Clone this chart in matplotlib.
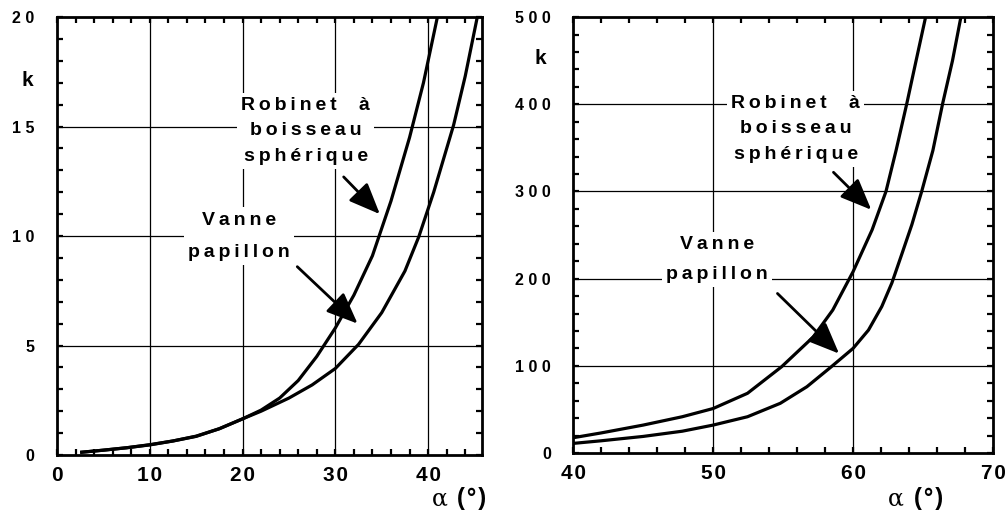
import matplotlib
matplotlib.use("Agg")
import matplotlib.pyplot as plt
from matplotlib.ticker import MultipleLocator, FixedLocator, FixedFormatter
from matplotlib.patches import FancyArrowPatch

# Loss coefficient k versus opening angle alpha (degrees)
# Low-angle panel (0-46 deg)
alpha_ball_low = [2.5, 5, 7.5, 10, 12.5, 15, 17.5, 20, 22, 24, 26, 28, 30, 32, 34,
                  36, 38, 39.5, 41]
k_ball_low = [0.12, 0.22, 0.33, 0.47, 0.64, 0.86, 1.2, 1.65, 2.05, 2.6, 3.4, 4.5,
              5.8, 7.3, 9.1, 11.6, 14.5, 17.0, 20.0]

alpha_fly_low = [2.5, 5, 7.5, 10, 12.5, 15, 17.5, 20, 22, 25, 27.5, 30, 32.5, 35,
                 37.5, 39, 40.6, 42.75, 44, 45.3]
k_fly_low = [0.12, 0.22, 0.33, 0.46, 0.64, 0.85, 1.2, 1.65, 2.0, 2.6, 3.2, 3.95,
             5.05, 6.5, 8.4, 9.97, 12.0, 15.07, 17.3, 20.0]

# High-angle panel (40-70 deg)
alpha_ball_high = [40, 42, 45, 47.8, 50, 52.46, 54.9, 57.15, 58.55, 60, 61.36, 62.35,
                   63.07, 63.84, 64.5, 65.18]
k_ball_high = [17.5, 23, 32, 41.6, 51, 68.5, 99, 133, 164, 208, 256, 300, 347, 401,
               450, 500]

alpha_fly_high = [40, 42, 45, 47.8, 50, 52.46, 54.8, 56.7, 58.45, 60, 61.1, 62.05,
                  62.77, 63.5, 64.2, 64.9, 65.7, 66.4, 67.1, 67.7]
k_fly_high = [11, 14, 19, 25, 32, 41.6, 57, 76, 99, 120, 141, 168, 195, 229, 262,
              300, 347, 401, 450, 500]

label_ball = "Robinet  à\nboisseau\nsphérique"
label_fly = "Vanne\npapillon"
x_ticks_low = [0, 10, 20, 30, 40]
y_ticks_low = [0, 5, 10, 15, 20]
x_ticks_high = [40, 50, 60, 70]
y_ticks_high = [0, 100, 200, 300, 400, 500]

FONT = "Liberation Sans"
plt.rcParams["font.family"] = [FONT, "DejaVu Sans"]
plt.rcParams["font.weight"] = "bold"

THIN = "\u2009"
HAIR = "\u200a"


def spaced(s, gap=THIN):
    """Letter-spaced version of a (possibly multi-line) string."""
    return "\n".join(gap.join(line) for line in s.split("\n"))


fig = plt.figure(figsize=(10.08, 5.11), dpi=100)
ax1 = fig.add_axes([0.0565, 0.1096, 0.4216, 0.857])
ax2 = fig.add_axes([0.5685, 0.1135, 0.4167, 0.853])

LW_CURVE = 2.3
LW_SPINE = 2.0


def style_axes(ax, xlim, ylim, xt, yt, xminor, yminor, grid_x, grid_y):
    ax.set_xlim(*xlim)
    ax.set_ylim(*ylim)
    ax.xaxis.set_major_locator(FixedLocator(xt))
    ax.yaxis.set_major_locator(FixedLocator(yt))
    ax.xaxis.set_major_formatter(FixedFormatter([spaced(str(v), HAIR) for v in xt]))
    ax.yaxis.set_major_formatter(FixedFormatter([" ".join(str(v)) for v in yt]))
    ax.xaxis.set_minor_locator(MultipleLocator(xminor))
    ax.yaxis.set_minor_locator(MultipleLocator(yminor))
    ax.tick_params(which="both", direction="in", top=True, right=True,
                   length=4, width=1.6, color="black")
    ax.tick_params(axis="x", which="major", labelsize=15, pad=8)
    ax.tick_params(axis="y", which="major", labelsize=11.5, pad=16)
    for lab in ax.get_xticklabels() + ax.get_yticklabels():
        lab.set_fontweight("bold")
    for s in ax.spines.values():
        s.set_linewidth(LW_SPINE)
    for gx in grid_x:
        ax.axvline(gx, color="black", lw=0.9, zorder=1)
    for gy in grid_y:
        ax.axhline(gy, color="black", lw=0.9, zorder=1)


style_axes(ax1, (0, 45.8), (0, 20), x_ticks_low, y_ticks_low, 2, 1,
           [10, 20, 30, 40], [5, 10, 15])
style_axes(ax2, (40, 70), (0, 500), x_ticks_high, y_ticks_high, 2, 20,
           [50, 60], [100, 200, 300, 400])

for ax, xs, ys in [(ax1, alpha_ball_low, k_ball_low), (ax1, alpha_fly_low, k_fly_low),
                   (ax2, alpha_ball_high, k_ball_high), (ax2, alpha_fly_high, k_fly_high)]:
    ax.plot(xs, ys, color="black", lw=LW_CURVE, zorder=4,
            solid_capstyle="butt", solid_joinstyle="round")

box = dict(facecolor="white", edgecolor="none", pad=3)
txt_kw = dict(fontsize=14, fontweight="bold", zorder=3,
              bbox=box, multialignment="center")

# Curve labels
ax1.text(26.8, 14.8, spaced(label_ball), ha="center", va="center",
         linespacing=1.65, **txt_kw)
ax1.text(19.6, 10.0, spaced(label_fly), ha="center", va="center",
         linespacing=2.15, **txt_kw)
ax2.text(55.9, 372, spaced(label_ball), ha="center", va="center",
         linespacing=1.65, **txt_kw)
ax2.text(50.3, 222, spaced(label_fly), ha="center", va="center",
         linespacing=2.05, **txt_kw)


def arrow(ax, start, end):
    a = FancyArrowPatch(start, end, arrowstyle="-|>,head_length=1.2,head_width=0.5",
                        mutation_scale=16, lw=2.0, color="black", zorder=5,
                        shrinkA=0, shrinkB=0)
    ax.add_patch(a)


arrow(ax1, (30.9, 12.7), (34.8, 11.0))
arrow(ax1, (25.9, 8.6), (32.4, 6.0))
arrow(ax2, (58.6, 322), (61.3, 279))
arrow(ax2, (54.6, 183), (59.0, 114))

# Axis names
fig.text(27 / 1008, 1 - 80 / 511, "k", ha="center", va="center",
         fontsize=15, fontweight="bold")
fig.text(540 / 1008, 1 - 58 / 511, "k", ha="center", va="center",
         fontsize=15, fontweight="bold")

for xa, xp in [(440, 472), (896, 929)]:
    fig.text(xa / 1008, 1 - 505 / 511, "α", ha="center", va="baseline",
             fontsize=17, fontweight="normal", family="DejaVu Serif")
    fig.text(xp / 1008, 1 - 505 / 511, spaced("(°)", HAIR), ha="center",
             va="baseline", fontsize=17, fontweight="bold")

fig.savefig("out.png", dpi=100, facecolor="white")
